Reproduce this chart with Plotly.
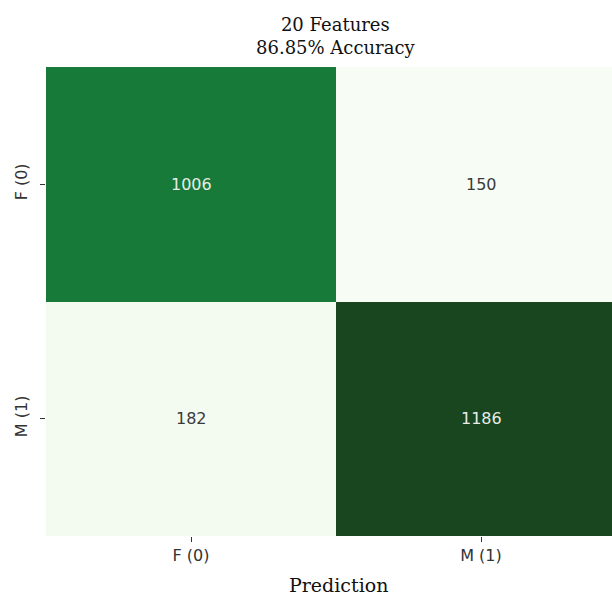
import plotly.graph_objects as go

# Confusion matrix: rows = true class, columns = predicted class
labels = ["F (0)", "M (1)"]
counts = [[1006, 150],
          [182, 1186]]
title_lines = ["20 Features", "86.85% Accuracy"]
x_title = "Prediction"

# "Greens" sequential palette, light to dark
greens = ["#f7fcf5", "#e5f5e0", "#c7e9c0", "#a1d99b", "#74c476",
          "#41ab5d", "#238b45", "#0f6f30", "#19461f"]
colorscale = [[i / (len(greens) - 1), c] for i, c in enumerate(greens)]

zmin = min(min(r) for r in counts)
zmax = max(max(r) for r in counts)
mid = (zmin + zmax) / 2

fig = go.Figure(go.Heatmap(
    z=counts, x=[0, 1], y=[0, 1],
    colorscale=colorscale, zmin=zmin, zmax=zmax,
    showscale=False, hoverinfo="skip",
))

# cell counts
for i, row in enumerate(counts):
    for j, v in enumerate(row):
        fig.add_annotation(
            x=j, y=i, text=str(v), showarrow=False,
            font=dict(family="DejaVu Sans", size=16,
                      color="#e6ece6" if v > mid else "#3a3a3a"),
        )

serif = "DejaVu Serif"
fig.add_annotation(
    x=(336 - 46) / 566, y=1, xref="paper", yref="paper",
    xanchor="center", yanchor="bottom", yshift=7,
    text="<br>".join(title_lines), showarrow=False,
    font=dict(family=serif, size=18, color="#111"),
)
fig.add_annotation(
    x=(338 - 46) / 566, y=0, xref="paper", yref="paper",
    xanchor="center", yanchor="top", yshift=-36,
    text=x_title, showarrow=False,
    font=dict(family=serif, size=19, color="#111"),
)

tick_font = dict(family="DejaVu Sans", size=16, color="#333")
fig.update_xaxes(
    range=[-0.5, -0.5 + 566 / 290], tickvals=[0, 1], ticktext=labels,
    ticks="outside", ticklen=5, tickcolor="#333", tickwidth=1,
    tickfont=tick_font, showgrid=False, zeroline=False, showline=False,
)
fig.update_yaxes(
    range=[1.5, -0.5], tickvals=[0, 1], ticktext=labels, tickangle=-90,
    ticks="outside", ticklen=5, tickcolor="#333", tickwidth=1,
    ticklabelstandoff=7,
    tickfont=tick_font, showgrid=False, zeroline=False, showline=False,
)

fig.update_layout(
    width=612, height=596,
    margin=dict(l=46, r=0, t=67, b=60),
    paper_bgcolor="white", plot_bgcolor="white",
)

fig.write_html("out.html")
